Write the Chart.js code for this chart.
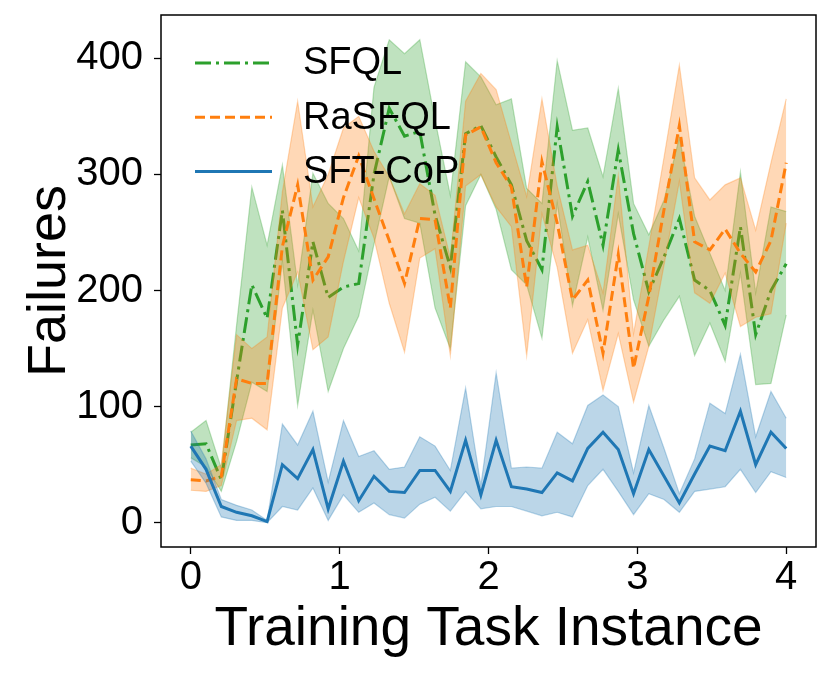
<!DOCTYPE html>
<html lang="en">
<head>
    <meta charset="UTF-8">
    <title>Failures per Training Task Instance</title>
    <script src="https://cdn.jsdelivr.net/npm/chart.js"></script>
    <style>
        body { margin: 0; background: #fff; }
    </style>
</head>
<body>
    <canvas id="failChart" width="831" height="676"></canvas>

    <script>
        // x positions of the 40 recorded instances (0 .. 4)
        const xs = [0, 0.1026, 0.2051, 0.3077, 0.4103, 0.5128, 0.6154, 0.7179, 0.8205, 0.9231,
                    1.0256, 1.1282, 1.2308, 1.3333, 1.4359, 1.5385, 1.641, 1.7436, 1.8462, 1.9487,
                    2.0513, 2.1538, 2.2564, 2.359, 2.4615, 2.5641, 2.6667, 2.7692, 2.8718, 2.9744,
                    3.0769, 3.1795, 3.2821, 3.3846, 3.4872, 3.5897, 3.6923, 3.7949, 3.8974, 4];

        const sfqlMean = [67, 68, 37, 122, 205, 176, 269, 153, 242, 194, 203, 206, 300, 357, 333, 337, 265, 220, 335, 342,
                          315, 291, 243, 218, 341, 264, 294, 239, 321, 249, 199, 229, 262, 209, 200, 170, 255, 162, 200, 223];
        const sfqlHigh = [78, 88, 47, 170, 289, 239, 308, 205, 301, 275, 262, 234, 375, 416, 404, 416, 347, 282, 397, 384,
                          360, 365, 288, 275, 398, 338, 340, 298, 374, 275, 248, 278, 332, 264, 232, 200, 302, 198, 272, 268];
        const sfqlLow = [56, 48, 27, 70, 121, 113, 225, 101, 183, 113, 150, 178, 240, 298, 262, 258, 185, 150, 273, 300,
                         270, 218, 205, 159, 275, 187, 246, 183, 266, 192, 152, 175, 195, 144, 172, 139, 215, 119, 120, 179];

        const rasfqlMean = [37, 36, 40, 124, 120, 120, 238, 291, 209, 229, 280, 316, 279, 243, 206, 262, 261, 185, 334, 341,
                            310, 289, 203, 311, 258, 192, 209, 146, 231, 133, 195, 270, 342, 242, 235, 253, 232, 216, 243, 310];
        const rasfqlHigh = [47, 42, 50, 162, 150, 160, 285, 363, 272, 300, 340, 350, 320, 298, 266, 292, 282, 228, 363, 387,
                            373, 327, 281, 365, 290, 235, 239, 198, 299, 163, 238, 315, 394, 297, 278, 291, 297, 252, 310, 365];
        const rasfqlLow = [28, 27, 32, 88, 90, 80, 185, 216, 149, 160, 225, 280, 245, 189, 147, 228, 236, 144, 290, 300,
                           272, 255, 144, 266, 220, 146, 175, 114, 163, 104, 152, 222, 294, 198, 189, 215, 169, 177, 180, 258];

        const coMean = [66, 46, 14, 9, 6, 1, 50, 38, 63, 12, 53, 19, 40, 27, 26, 45, 45, 27, 71, 24,
                        71, 31, 29, 26, 43, 36, 64, 78, 63, 25, 63, 40, 17, 42, 66, 62, 96, 50, 78, 64];
        const coHigh = [79, 55, 20, 15, 11, 2, 85, 67, 96, 35, 88, 57, 62, 46, 48, 74, 66, 45, 116, 32,
                        129, 47, 48, 47, 78, 68, 101, 110, 100, 43, 101, 64, 25, 55, 103, 94, 145, 74, 113, 90];
        const coLow = [53, 34, 5, 2, 2, 0, 14, 11, 30, 2, 24, 9, 17, 7, 4, 16, 22, 10, 27, 12,
                       14, 14, 10, 6, 9, 5, 32, 46, 27, 7, 25, 20, 9, 27, 29, 31, 46, 26, 44, 39];

        const xTicks = [0, 1, 2, 3, 4];
        const yTicks = [0, 100, 200, 300, 400];

        const FONT = "'Liberation Sans', Arial, sans-serif";
        const BLUE = '31, 119, 180', ORANGE = '255, 127, 14', GREEN = '44, 160, 44';

        const pts = arr => arr.map((v, i) => ({x: xs[i], y: v}));

        function meanLine(label, arr, rgb, dash, order) {
            return {
                label: label, data: pts(arr), order: order,
                borderColor: 'rgb(' + rgb + ')', borderWidth: 3, borderDash: dash,
                pointRadius: 0, tension: 0, fill: false
            };
        }
        function bandEdge(arr, rgb, fill, order) {
            return {
                label: '', data: pts(arr), order: order,
                borderColor: 'rgba(' + rgb + ', 0.3)', borderWidth: 1.2,
                backgroundColor: 'rgba(' + rgb + ', 0.3)',
                pointRadius: 0, tension: 0, fill: fill
            };
        }

        const legendItems = [
            {text: 'SFQL', rgb: GREEN, dash: [16, 5, 3, 5]},
            {text: 'RaSFQL', rgb: ORANGE, dash: [10, 5]},
            {text: 'SFT-CoP', rgb: BLUE, dash: []}
        ];

        // frame + legend drawn by hand (matplotlib style, no legend box)
        const framePlugin = {
            id: 'frame',
            afterDraw(chart) {
                const {ctx, chartArea: a} = chart;
                ctx.save();
                ctx.strokeStyle = '#000';
                ctx.lineWidth = 1.5;
                ctx.strokeRect(a.left, a.top, a.right - a.left, a.bottom - a.top);

                ctx.font = '38px ' + FONT;
                ctx.textBaseline = 'middle';
                ctx.fillStyle = '#000';
                legendItems.forEach((it, i) => {
                    const y = 63 + i * 54.3;
                    ctx.beginPath();
                    ctx.setLineDash(it.dash);
                    ctx.lineWidth = 3;
                    ctx.strokeStyle = 'rgb(' + it.rgb + ')';
                    ctx.moveTo(195, y);
                    ctx.lineTo(272, y);
                    ctx.stroke();
                    ctx.setLineDash([]);
                    ctx.fillText(it.text, 303, y + 1);
                });
                ctx.restore();
            }
        };

        new Chart(document.getElementById('failChart').getContext('2d'), {
            type: 'line',
            data: {
                datasets: [
                    meanLine('SFT-CoP', coMean, BLUE, [], 0),
                    bandEdge(coHigh, BLUE, '+1', 1),
                    bandEdge(coLow, BLUE, false, 2),
                    meanLine('RaSFQL', rasfqlMean, ORANGE, [10, 5], 3),
                    bandEdge(rasfqlHigh, ORANGE, '+1', 4),
                    bandEdge(rasfqlLow, ORANGE, false, 5),
                    meanLine('SFQL', sfqlMean, GREEN, [16, 5, 3, 5], 6),
                    bandEdge(sfqlHigh, GREEN, '+1', 7),
                    bandEdge(sfqlLow, GREEN, false, 8)
                ]
            },
            options: {
                responsive: false,
                animation: false,
                layout: {padding: {left: 0, top: 15, right: 15, bottom: 0}},
                plugins: {legend: {display: false}, tooltip: {enabled: false}},
                scales: {
                    x: {
                        type: 'linear', min: -0.2, max: 4.2,
                        afterBuildTicks: s => { s.ticks = xTicks.map(v => ({value: v})); },
                        afterFit: s => { s.height = 129; s.paddingLeft = 0; s.paddingRight = 0; },
                        grid: {drawOnChartArea: false, drawTicks: true, tickLength: 7, tickWidth: 1.3, color: '#000'},
                        border: {display: false},
                        ticks: {color: '#000', padding: 4, maxRotation: 0, font: {family: FONT, size: 40, lineHeight: 1}},
                        title: {display: true, text: 'Training Task Instance', color: '#000', padding: {top: 0, bottom: 19},
                                font: {family: FONT, size: 55, lineHeight: 1}}
                    },
                    y: {
                        type: 'linear', min: -20.9, max: 437.3,
                        afterBuildTicks: s => { s.ticks = yTicks.map(v => ({value: v})); },
                        afterFit: s => { s.width = 161; s.paddingTop = 0; s.paddingBottom = 0; },
                        grid: {drawOnChartArea: false, drawTicks: true, tickLength: 7, tickWidth: 1.3, color: '#000'},
                        border: {display: false},
                        ticks: {color: '#000', padding: 11, font: {family: FONT, size: 40, lineHeight: 1}},
                        title: {display: true, text: 'Failures', color: '#000', padding: {top: 23, bottom: 0},
                                font: {family: FONT, size: 54, lineHeight: 1}}
                    }
                }
            },
            plugins: [framePlugin]
        });
    </script>
</body>
</html>
